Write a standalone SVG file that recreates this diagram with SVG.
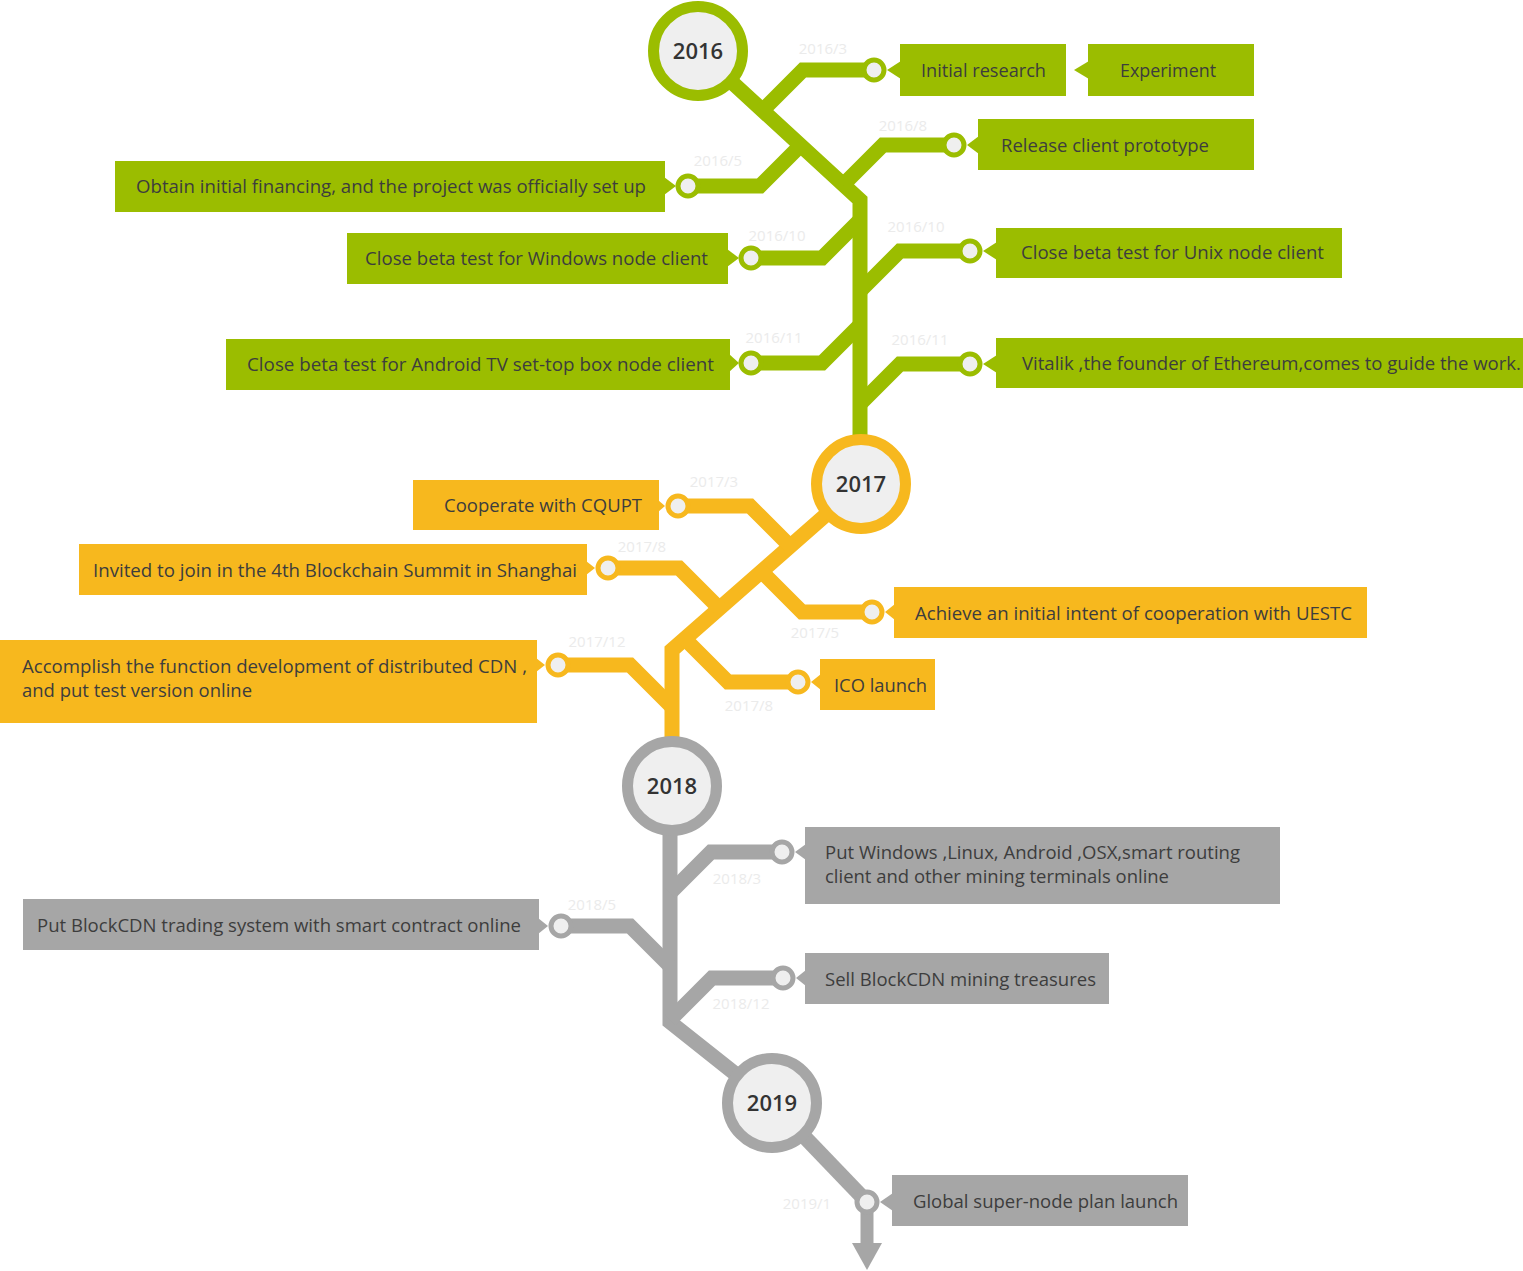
<svg xmlns="http://www.w3.org/2000/svg" width="1523" height="1271" viewBox="0 0 1523 1271">
<style>
.g{stroke:#9bbd00}.o{stroke:#f7b81e}.y{stroke:#a6a6a6}
.line{fill:none;stroke-width:15;stroke-linejoin:miter;stroke-linecap:butt}
.gf{fill:#9bbd00}.of{fill:#f7b81e}.yf{fill:#a6a6a6}
.node{fill:#efefef;stroke-width:5}
.year{fill:#efefef;stroke-width:11}
.yt{font-family:"Open Sans","Noto Sans",sans-serif;font-size:22px;font-weight:600;fill:#333;text-anchor:middle}
.lbl{font-family:"Open Sans","Noto Sans",sans-serif;font-size:18px;fill:#3d3d3d}
.dt{font-family:"Open Sans","Noto Sans",sans-serif;font-size:15px;fill:#ebebeb;text-anchor:middle}
</style>
<g id="connectors">
<path class="line g" d="M698,51 L860,200 L860,484"/>
<path class="line g" d="M762,111 L803,70 L874,70"/>
<path class="line g" d="M688,186 L760,186 L801,145"/>
<path class="line g" d="M843,185 L883,145 L954,145"/>
<path class="line g" d="M751,258 L822,258 L860,220"/>
<path class="line g" d="M860,291 L900,251 L970,251"/>
<path class="line g" d="M751,363 L822,363 L860,325"/>
<path class="line g" d="M860,404 L900,364 L970,364"/>
<path class="line o" d="M861,484 L672,650 L672,786"/>
<path class="line o" d="M678,506 L750,506 L790,546"/>
<path class="line o" d="M608,568 L679,568 L719,608"/>
<path class="line o" d="M761,571 L802,612 L872,612"/>
<path class="line o" d="M685,639 L728,682 L798,682"/>
<path class="line o" d="M558,665 L630,665 L672,707"/>
<path class="line y" d="M670,786 L670,1022 L772,1103"/>
<path class="line y" d="M670,893 L711,852 L782,852"/>
<path class="line y" d="M561,926 L630,926 L670,966"/>
<path class="line y" d="M670,1020 L712,978 L783,978"/>
<path class="line y" d="M772,1103 L867,1202"/>
<path class="y" d="M867,1202 L867,1245" stroke-width="13" fill="none"/>
<polygon class="yf" points="852,1243 882,1243 867,1270"/>
</g>
<g id="dates">
<text class="dt" x="823" y="54">2016/3</text>
<text class="dt" x="718" y="166">2016/5</text>
<text class="dt" x="903" y="131">2016/8</text>
<text class="dt" x="777" y="241">2016/10</text>
<text class="dt" x="916" y="232">2016/10</text>
<text class="dt" x="774" y="343">2016/11</text>
<text class="dt" x="920" y="345">2016/11</text>
<text class="dt" x="714" y="487">2017/3</text>
<text class="dt" x="642" y="552">2017/8</text>
<text class="dt" x="815" y="638">2017/5</text>
<text class="dt" x="749" y="711">2017/8</text>
<text class="dt" x="597" y="647">2017/12</text>
<text class="dt" x="737" y="884">2018/3</text>
<text class="dt" x="592" y="910">2018/5</text>
<text class="dt" x="741" y="1009">2018/12</text>
<text class="dt" x="807" y="1209">2019/1</text>
</g>
<g id="year-2016"><circle class="year g" cx="698" cy="51" r="44.5"/><text class="yt" x="698" y="59">2016</text></g>
<g id="year-2017"><circle class="year o" cx="861" cy="484" r="44.5"/><text class="yt" x="861" y="492">2017</text></g>
<g id="year-2018"><circle class="year y" cx="672" cy="786" r="44.5"/><text class="yt" x="672" y="794">2018</text></g>
<g id="year-2019"><circle class="year y" cx="772" cy="1103" r="44.5"/><text class="yt" x="772" y="1111">2019</text></g>
<g id="stops">
<circle class="node g" cx="874" cy="70" r="10"/>
<circle class="node g" cx="688" cy="186" r="10"/>
<circle class="node g" cx="954" cy="145" r="10"/>
<circle class="node g" cx="751" cy="258" r="10"/>
<circle class="node g" cx="970" cy="251" r="10"/>
<circle class="node g" cx="751" cy="363" r="10"/>
<circle class="node g" cx="970" cy="364" r="10"/>
<circle class="node o" cx="678" cy="506" r="10"/>
<circle class="node o" cx="608" cy="568" r="10"/>
<circle class="node o" cx="872" cy="612" r="10"/>
<circle class="node o" cx="798" cy="682" r="10"/>
<circle class="node o" cx="558" cy="665" r="10"/>
<circle class="node y" cx="782" cy="852" r="10"/>
<circle class="node y" cx="561" cy="926" r="10"/>
<circle class="node y" cx="783" cy="978" r="10"/>
<circle class="node y" cx="867" cy="1202" r="10"/>
</g>
<g id="n-initial-research"><rect class="gf" x="900" y="44" width="166" height="52"/><polygon class="gf" points="887,70 901,61 901,79"/><text class="lbl" x="921" y="77" textLength="125" lengthAdjust="spacingAndGlyphs">Initial research</text></g>
<g id="n-experiment"><rect class="gf" x="1088" y="44" width="166" height="52"/><polygon class="gf" points="1074,70 1089,61 1089,79"/><text class="lbl" x="1120" y="77" textLength="96" lengthAdjust="spacingAndGlyphs">Experiment</text></g>
<g id="n-release"><rect class="gf" x="978" y="119" width="276" height="51"/><polygon class="gf" points="967,145 979,136 979,154"/><text class="lbl" x="1001" y="152" textLength="208" lengthAdjust="spacingAndGlyphs">Release client prototype</text></g>
<g id="n-financing"><rect class="gf" x="115" y="161" width="550" height="51"/><polygon class="gf" points="676,186 664,177 664,195"/><text class="lbl" x="136" y="193" textLength="510" lengthAdjust="spacingAndGlyphs">Obtain initial financing, and the project was officially set up</text></g>
<g id="n-windows"><rect class="gf" x="347" y="233" width="381" height="51"/><polygon class="gf" points="739,258 727,249 727,267"/><text class="lbl" x="365" y="265" textLength="343" lengthAdjust="spacingAndGlyphs">Close beta test for Windows node client</text></g>
<g id="n-unix"><rect class="gf" x="996" y="228" width="346" height="50"/><polygon class="gf" points="983,251 997,242 997,260"/><text class="lbl" x="1021" y="259" textLength="303" lengthAdjust="spacingAndGlyphs">Close beta test for Unix node client</text></g>
<g id="n-android"><rect class="gf" x="226" y="339" width="504" height="51"/><polygon class="gf" points="739,363 729,354 729,372"/><text class="lbl" x="247" y="371" textLength="467" lengthAdjust="spacingAndGlyphs">Close beta test for Android TV set-top box node client</text></g>
<g id="n-vitalik"><rect class="gf" x="996" y="338" width="527" height="50"/><polygon class="gf" points="983,364 997,355 997,373"/><text class="lbl" x="1022" y="370" textLength="499" lengthAdjust="spacingAndGlyphs">Vitalik ,the founder of Ethereum,comes to guide the work.</text></g>
<g id="n-cqupt"><rect class="of" x="413" y="480" width="246" height="50"/><polygon class="of" points="665,506 658,500 658,512"/><text class="lbl" x="444" y="512" textLength="198" lengthAdjust="spacingAndGlyphs">Cooperate with CQUPT</text></g>
<g id="n-shanghai"><rect class="of" x="79" y="544" width="508" height="51"/><polygon class="of" points="595,568 586,561 586,575"/><text class="lbl" x="93" y="577" textLength="484" lengthAdjust="spacingAndGlyphs">Invited to join in the 4th Blockchain Summit in Shanghai</text></g>
<g id="n-uestc"><rect class="of" x="894" y="587" width="473" height="51"/><polygon class="of" points="885,612 895,604 895,620"/><text class="lbl" x="915" y="620" textLength="437" lengthAdjust="spacingAndGlyphs">Achieve an initial intent of cooperation with UESTC</text></g>
<g id="n-ico"><rect class="of" x="820" y="659" width="115" height="51"/><polygon class="of" points="811,682 821,674 821,690"/><text class="lbl" x="834" y="692" textLength="93" lengthAdjust="spacingAndGlyphs">ICO launch</text></g>
<g id="n-cdn"><rect class="of" x="0" y="640" width="537" height="83"/><polygon class="of" points="545,665 536,658 536,672"/><text class="lbl" x="22" y="673" textLength="505" lengthAdjust="spacingAndGlyphs">Accomplish the function development of distributed CDN ,</text><text class="lbl" x="22" y="697" textLength="230" lengthAdjust="spacingAndGlyphs">and put test version online</text></g>
<g id="n-terminals"><rect class="yf" x="805" y="827" width="475" height="77"/><polygon class="yf" points="795,852 806,844 806,860"/><text class="lbl" x="825" y="859" textLength="415" lengthAdjust="spacingAndGlyphs">Put Windows ,Linux, Android ,OSX,smart routing</text><text class="lbl" x="825" y="883" textLength="344" lengthAdjust="spacingAndGlyphs">client and other mining terminals online</text></g>
<g id="n-trading"><rect class="yf" x="23" y="899" width="516" height="51"/><polygon class="yf" points="548,926 538,918 538,934"/><text class="lbl" x="37" y="932" textLength="484" lengthAdjust="spacingAndGlyphs">Put BlockCDN trading system with smart contract online</text></g>
<g id="n-treasures"><rect class="yf" x="805" y="953" width="304" height="51"/><polygon class="yf" points="796,978 806,970 806,986"/><text class="lbl" x="825" y="986" textLength="271" lengthAdjust="spacingAndGlyphs">Sell BlockCDN mining treasures</text></g>
<g id="n-supernode"><rect class="yf" x="892" y="1175" width="296" height="51"/><polygon class="yf" points="880,1202 893,1193 893,1211"/><text class="lbl" x="913" y="1208" textLength="265" lengthAdjust="spacingAndGlyphs">Global super-node plan launch</text></g>
</svg>
